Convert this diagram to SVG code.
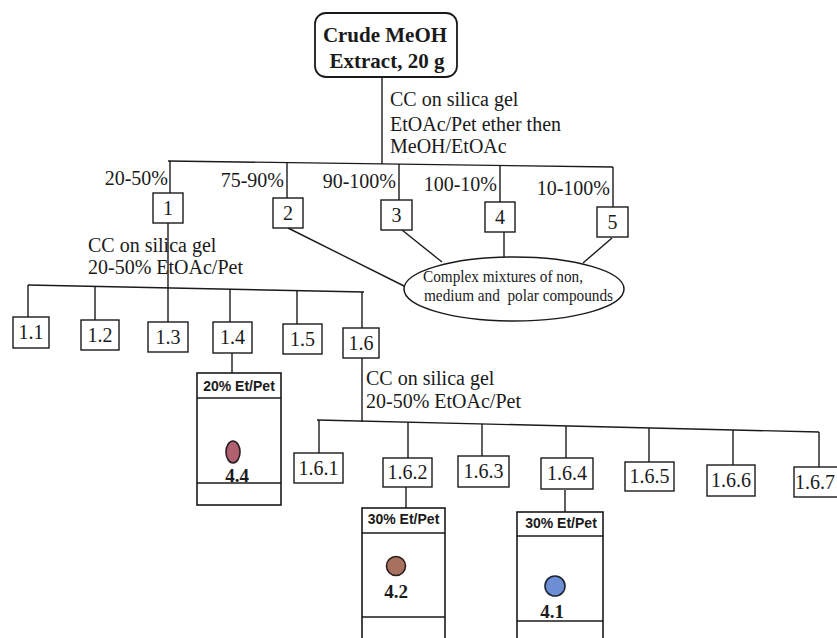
<svg xmlns="http://www.w3.org/2000/svg" width="837" height="638" viewBox="0 0 837 638">
  <style>
    .ln { stroke: #1a1a1a; stroke-width: 1.4; fill: none; }
    .box { fill: #fff; stroke: #1a1a1a; stroke-width: 1.4; }
    .plate { fill: #fff; stroke: #1a1a1a; stroke-width: 1.6; }
    .t { font-family: "Liberation Serif", "Times New Roman", serif; font-size: 20px; fill: #1a1a1a; }
    .num { font-family: "Liberation Serif", "Times New Roman", serif; font-size: 20px; fill: #1a1a1a; text-anchor: middle; }
    .head { font-family: "Liberation Sans", Arial, sans-serif; font-size: 14px; font-weight: bold; fill: #1a1a1a; text-anchor: middle; }
    .spotlbl { font-family: "Liberation Serif", "Times New Roman", serif; font-size: 19px; font-weight: bold; fill: #1a1a1a; text-anchor: middle; }
    .mix { font-family: "Liberation Serif", "Times New Roman", serif; font-size: 16px; fill: #1a1a1a; }
  </style>
  <rect width="837" height="638" fill="#fff"/>

  <!-- connectors -->
  <g id="connectors">
    <line class="ln" x1="382" y1="77" x2="382" y2="164"/>
    <line class="ln" x1="168" y1="161" x2="613" y2="167"/>
    <line class="ln" x1="170" y1="161" x2="170" y2="193"/>
    <line class="ln" x1="287" y1="162.6" x2="287" y2="198"/>
    <line class="ln" x1="399" y1="164" x2="399" y2="200"/>
    <line class="ln" x1="500" y1="165.5" x2="500" y2="202"/>
    <line class="ln" x1="613" y1="167" x2="613" y2="207"/>
    <!-- fractions 2-5 to the mixture ellipse -->
    <line class="ln" x1="288" y1="228" x2="406" y2="287"/>
    <line class="ln" x1="402" y1="230" x2="442" y2="262"/>
    <line class="ln" x1="504" y1="232" x2="504" y2="257"/>
    <line class="ln" x1="612" y1="238" x2="583" y2="263"/>
    <!-- fraction 1 column -->
    <line class="ln" x1="168" y1="223" x2="168" y2="322"/>
    <line class="ln" x1="28" y1="285" x2="364" y2="292"/>
    <line class="ln" x1="28" y1="285" x2="28" y2="317"/>
    <line class="ln" x1="95" y1="286.4" x2="95" y2="320"/>
    <line class="ln" x1="230" y1="289.2" x2="230" y2="322"/>
    <line class="ln" x1="297" y1="290.6" x2="297" y2="324"/>
    <line class="ln" x1="362" y1="292" x2="362" y2="328"/>
    <line class="ln" x1="232" y1="353" x2="232" y2="373"/>
    <!-- fraction 1.6 column -->
    <line class="ln" x1="362" y1="358" x2="362" y2="422"/>
    <line class="ln" x1="317" y1="420" x2="819" y2="432"/>
    <line class="ln" x1="319" y1="420" x2="319" y2="453"/>
    <line class="ln" x1="408" y1="422" x2="408" y2="458"/>
    <line class="ln" x1="482" y1="424" x2="482" y2="456"/>
    <line class="ln" x1="566" y1="426" x2="566" y2="458"/>
    <line class="ln" x1="649" y1="428" x2="649" y2="462"/>
    <line class="ln" x1="733" y1="430" x2="733" y2="465"/>
    <line class="ln" x1="819" y1="432" x2="819" y2="467"/>
    <line class="ln" x1="406" y1="487" x2="406" y2="508"/>
    <line class="ln" x1="565" y1="490" x2="565" y2="512"/>
  </g>

  <!-- column conditions and eluent labels -->
  <g id="labels">
    <text class="t" x="390" y="106">CC on silica gel</text>
    <text class="t" x="390" y="131">EtOAc/Pet ether then</text>
    <text class="t" x="390" y="153">MeOH/EtOAc</text>
    <text class="t" x="168" y="185" text-anchor="end">20-50%</text>
    <text class="t" x="284" y="187" text-anchor="end">75-90%</text>
    <text class="t" x="396" y="188" text-anchor="end">90-100%</text>
    <text class="t" x="497" y="191" text-anchor="end">100-10%</text>
    <text class="t" x="610" y="195" text-anchor="end">10-100%</text>
    <text class="t" x="88" y="252">CC on silica gel</text>
    <text class="t" x="88" y="274">20-50% EtOAc/Pet</text>
    <text class="t" x="366" y="385">CC on silica gel</text>
    <text class="t" x="366" y="408">20-50% EtOAc/Pet</text>
  </g>

  <g id="crude">
    <rect x="315" y="13" width="142" height="64" rx="11" fill="#fff" stroke="#1a1a1a" stroke-width="1.8"/>
    <text x="385" y="42" text-anchor="middle" font-family="'Liberation Serif', 'Times New Roman', serif" font-size="21" font-weight="bold" fill="#1a1a1a">Crude MeOH</text>
    <text x="387" y="68" text-anchor="middle" font-family="'Liberation Serif', 'Times New Roman', serif" font-size="21" font-weight="bold" fill="#1a1a1a">Extract, 20 g</text>
  </g>

  <g id="f1"><rect class="box" x="153" y="193" width="30" height="30"/><text class="num" x="168" y="215">1</text></g>
  <g id="f2"><rect class="box" x="273" y="198" width="30" height="30"/><text class="num" x="288" y="220">2</text></g>
  <g id="f3"><rect class="box" x="381" y="200" width="31" height="30"/><text class="num" x="396.5" y="222">3</text></g>
  <g id="f4"><rect class="box" x="485" y="202" width="30" height="30"/><text class="num" x="500" y="224">4</text></g>
  <g id="f5"><rect class="box" x="597" y="207" width="31" height="30"/><text class="num" x="612.5" y="229">5</text></g>

  <g id="mixtures">
    <ellipse cx="514" cy="289" rx="110" ry="32" fill="#fff" stroke="#1a1a1a" stroke-width="1.5"/>
    <text class="mix" x="423" y="282" textLength="160" lengthAdjust="spacingAndGlyphs">Complex mixtures of non,</text>
    <text class="mix" x="424" y="301" textLength="189" lengthAdjust="spacingAndGlyphs" xml:space="preserve">medium and  polar compounds</text>
  </g>

  <g id="f1-1"><rect class="box" x="13" y="317" width="36" height="31"/><text class="num" x="31" y="339">1.1</text></g>
  <g id="f1-2"><rect class="box" x="81" y="320" width="38" height="30"/><text class="num" x="100" y="342">1.2</text></g>
  <g id="f1-3"><rect class="box" x="148" y="322" width="40" height="30"/><text class="num" x="168" y="344">1.3</text></g>
  <g id="f1-4"><rect class="box" x="213" y="322" width="39" height="31"/><text class="num" x="232.5" y="344">1.4</text></g>
  <g id="f1-5"><rect class="box" x="283" y="324" width="39" height="30"/><text class="num" x="302.5" y="346">1.5</text></g>
  <g id="f1-6"><rect class="box" x="343" y="328" width="36" height="30"/><text class="num" x="361" y="350">1.6</text></g>

  <!-- TLC plate for fraction 1.4 -->
  <g id="tlc-1-4">
    <rect class="plate" x="197" y="373" width="84" height="132"/>
    <line class="ln" x1="197" y1="398" x2="281" y2="398"/>
    <line class="ln" x1="197" y1="483" x2="281" y2="483"/>
    <text class="head" x="239" y="391">20% Et/Pet</text>
    <ellipse cx="233" cy="452" rx="7" ry="11" fill="#b0606f" stroke="#2a1f22" stroke-width="1.6"/>
    <text class="spotlbl" x="237" y="482">4.4</text>
  </g>

  <g id="f1-6-1"><rect class="box" x="294" y="453" width="49" height="30"/><text class="num" x="318.5" y="475">1.6.1</text></g>
  <g id="f1-6-2"><rect class="box" x="383" y="458" width="49" height="29"/><text class="num" x="407.5" y="479">1.6.2</text></g>
  <g id="f1-6-3"><rect class="box" x="458" y="456" width="51" height="31"/><text class="num" x="483.5" y="478">1.6.3</text></g>
  <g id="f1-6-4"><rect class="box" x="541" y="458" width="52" height="31"/><text class="num" x="567" y="480">1.6.4</text></g>
  <g id="f1-6-5"><rect class="box" x="625" y="462" width="49" height="29"/><text class="num" x="649.5" y="483">1.6.5</text></g>
  <g id="f1-6-6"><rect class="box" x="707" y="465" width="48" height="31"/><text class="num" x="731" y="487">1.6.6</text></g>
  <g id="f1-6-7"><rect class="box" x="794" y="467" width="50" height="30"/><text class="num" x="815" y="489">1.6.7</text></g>

  <!-- TLC plate for fraction 1.6.2 -->
  <g id="tlc-1-6-2">
    <rect class="plate" x="362" y="508" width="83" height="140"/>
    <line class="ln" x1="362" y1="533" x2="445" y2="533"/>
    <line class="ln" x1="362" y1="617" x2="445" y2="617"/>
    <text class="head" x="403.5" y="524">30% Et/Pet</text>
    <circle cx="396" cy="566" r="9.5" fill="#a8715f" stroke="#2a1f1c" stroke-width="1.6"/>
    <text class="spotlbl" x="396" y="598">4.2</text>
  </g>

  <!-- TLC plate for fraction 1.6.4 -->
  <g id="tlc-1-6-4">
    <rect class="plate" x="517" y="512" width="86" height="136"/>
    <line class="ln" x1="517" y1="536" x2="603" y2="536"/>
    <line class="ln" x1="517" y1="621" x2="603" y2="621"/>
    <text class="head" x="561" y="528">30% Et/Pet</text>
    <circle cx="555" cy="586" r="10" fill="#6c8ed4" stroke="#1e2433" stroke-width="1.6"/>
    <text class="spotlbl" x="552" y="618">4.1</text>
  </g>
</svg>
